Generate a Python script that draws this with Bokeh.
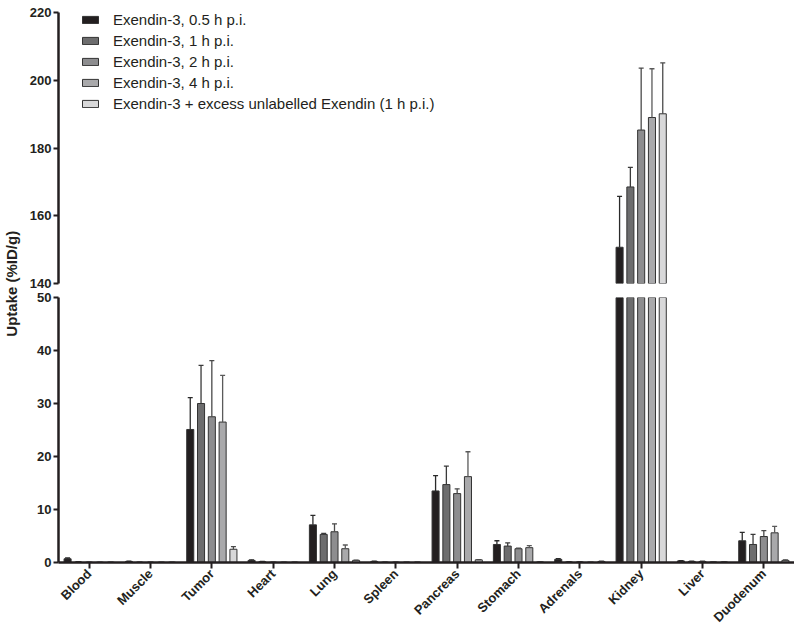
from math import pi
from bokeh.plotting import figure
from bokeh.models import (ColumnDataSource, FactorRange, Range1d, FixedTicker, Label,
                          CDSView, BooleanFilter)
from bokeh.layouts import row, column
from bokeh.transform import dodge
from bokeh.embed import file_html
from bokeh.resources import INLINE

# ---------------- data ----------------
organs = ["Blood", "Muscle", "Tumor", "Heart", "Lung", "Spleen",
          "Pancreas", "Stomach", "Adrenals", "Kidney", "Liver", "Duodenum"]

series_names = [
    "Exendin-3, 0.5 h p.i.",
    "Exendin-3, 1 h p.i.",
    "Exendin-3, 2 h p.i.",
    "Exendin-3, 4 h p.i.",
    "Exendin-3 + excess unlabelled Exendin (1 h p.i.)",
]

uptake_05h = [0.7, 0.2, 25.1, 0.4, 7.1, 0.2, 13.5, 3.4, 0.6, 150.7, 0.3, 4.1]
sd_05h = [0.15, 0.05, 6.0, 0.1, 1.8, 0.05, 2.9, 0.7, 0.15, 15.0, 0.05, 1.6]

uptake_1h = [0.1, 0.05, 30.0, 0.15, 5.3, 0.05, 14.7, 3.1, 0.1, 168.5, 0.2, 3.4]
sd_1h = [0.05, 0.02, 7.2, 0.05, 0.2, 0.02, 3.5, 0.6, 0.05, 5.8, 0.05, 1.9]

uptake_2h = [0.05, 0.05, 27.5, 0.05, 5.8, 0.05, 13.0, 2.6, 0.1, 185.3, 0.2, 4.9]
sd_2h = [0.02, 0.02, 10.6, 0.02, 1.5, 0.02, 0.9, 0.1, 0.05, 18.3, 0.05, 1.1]

uptake_4h = [0.05, 0.05, 26.5, 0.05, 2.6, 0.05, 16.2, 2.8, 0.05, 189.0, 0.1, 5.6]
sd_4h = [0.02, 0.02, 8.8, 0.02, 0.7, 0.02, 4.7, 0.4, 0.02, 14.4, 0.02, 1.2]

uptake_block = [0.05, 0.05, 2.5, 0.05, 0.4, 0.05, 0.5, 0.1, 0.2, 190.1, 0.1, 0.4]
sd_block = [0.02, 0.02, 0.5, 0.02, 0.05, 0.02, 0.05, 0.02, 0.05, 15.0, 0.02, 0.1]

upper_ticks = [140, 160, 180, 200, 220]
lower_ticks = [0, 10, 20, 30, 40, 50]

# ---------------- styling ----------------
values = [uptake_05h, uptake_1h, uptake_2h, uptake_4h, uptake_block]
sds = [sd_05h, sd_1h, sd_2h, sd_4h, sd_block]
fills = ["#231f20", "#6d6d6e", "#8d8d8f", "#a9a9ab", "#d8d8d9"]
err_colors = ["#2a2a2a", "#3a3a3a", "#4a4a4a", "#5a5a5a", "#4a4a4a"]
offsets = [-0.352, -0.176, 0.0, 0.176, 0.352]
INK = "#231f20"
FONT = "Liberation Sans"

x_range = FactorRange(*organs, range_padding=0)

sources = []
for v, s in zip(values, sds):
    sources.append(ColumnDataSource(dict(organ=organs, val=v,
                                         top=[a + b for a, b in zip(v, s)])))


def style_yaxis(p, ticks):
    ax = p.yaxis[0]
    ax.ticker = FixedTicker(ticks=ticks)
    ax.axis_line_width = 2.5
    ax.axis_line_color = INK
    ax.major_tick_line_width = 2
    ax.major_tick_line_color = INK
    ax.major_tick_out = 5
    ax.major_tick_in = 0
    ax.minor_tick_line_color = None
    ax.major_label_standoff = 2
    ax.major_label_text_font = FONT
    ax.major_label_text_font_style = "bold"
    ax.major_label_text_font_size = "13px"
    ax.major_label_text_color = INK


def make_panel(y0, y1, ticks, height, btop, bbot, show_x, with_legend):
    p = figure(x_range=x_range, y_range=Range1d(y0, y1), width=772, height=height,
               output_backend="svg", toolbar_location=None,
               min_border_left=36, min_border_right=0,
               min_border_top=btop, min_border_bottom=bbot,
               x_axis_location="below" if show_x else None)
    for i in range(5):
        xd = dodge("organ", offsets[i], range=x_range)
        # only draw the bars that reach into this panel
        mask = [v > y0 for v in values[i]]
        view = CDSView(filter=BooleanFilter(mask))
        kw = dict(legend_label=series_names[i]) if with_legend else {}
        p.vbar(x=xd, top="val", bottom=0, width=0.115, fill_color=fills[i],
               line_color="#333333", line_width=1, source=sources[i], view=view, **kw)
        p.segment(x0=xd, y0="val", x1=xd, y1="top", line_color=err_colors[i],
                  line_width=1.3, source=sources[i], view=view)
        p.scatter(x=xd, y="top", marker="dash", size=5, line_color=err_colors[i],
                  line_width=1.3, source=sources[i], view=view)
    p.xgrid.visible = False
    p.ygrid.visible = False
    p.outline_line_color = None
    style_yaxis(p, ticks)
    if show_x:
        ax = p.xaxis[0]
        ax.axis_line_width = 2.5
        ax.axis_line_color = INK
        ax.major_tick_line_width = 2
        ax.major_tick_line_color = INK
        ax.major_tick_out = 6
        ax.major_tick_in = 0
        ax.minor_tick_line_color = None
        ax.major_label_orientation = pi / 4
        ax.major_label_standoff = 3
        ax.major_label_text_font = FONT
        ax.major_label_text_font_style = "bold"
        ax.major_label_text_font_size = "13px"
        ax.major_label_text_color = INK
    return p


upper = make_panel(upper_ticks[0], upper_ticks[-1], upper_ticks, 290, 12, 7, False, True)
lower = make_panel(lower_ticks[0], lower_ticks[-1], lower_ticks, 348, 7, 76, True, False)

lg = upper.legend[0]
lg.location = (22, 171)
lg.padding = 0
lg.margin = 0
lg.border_line_color = None
lg.background_fill_alpha = 0
lg.glyph_width = 20
lg.glyph_height = 9
lg.label_height = 18
lg.spacing = 3
lg.label_standoff = 13
lg.label_text_font = FONT
lg.label_text_font_size = "15px"
lg.label_text_color = INK

# y-axis title spanning both panels
lab = figure(width=22, height=638, x_range=Range1d(0, 1), y_range=Range1d(0, 1),
             output_backend="svg", toolbar_location=None,
             min_border=0, min_border_left=0, min_border_right=0,
             min_border_top=0, min_border_bottom=0,
             x_axis_location=None, y_axis_location=None)
lab.outline_line_color = None
lab.xgrid.visible = False
lab.ygrid.visible = False
lab.add_layout(Label(x=0.5, y=0.556, text="Uptake (%ID/g)", angle=pi / 2,
                     text_align="center", text_baseline="middle",
                     text_font=FONT, text_font_style="bold",
                     text_font_size="15px", text_color=INK))

layout = row(lab, column(upper, lower))

with open("out.html", "w") as f:
    f.write(file_html(layout, INLINE))
